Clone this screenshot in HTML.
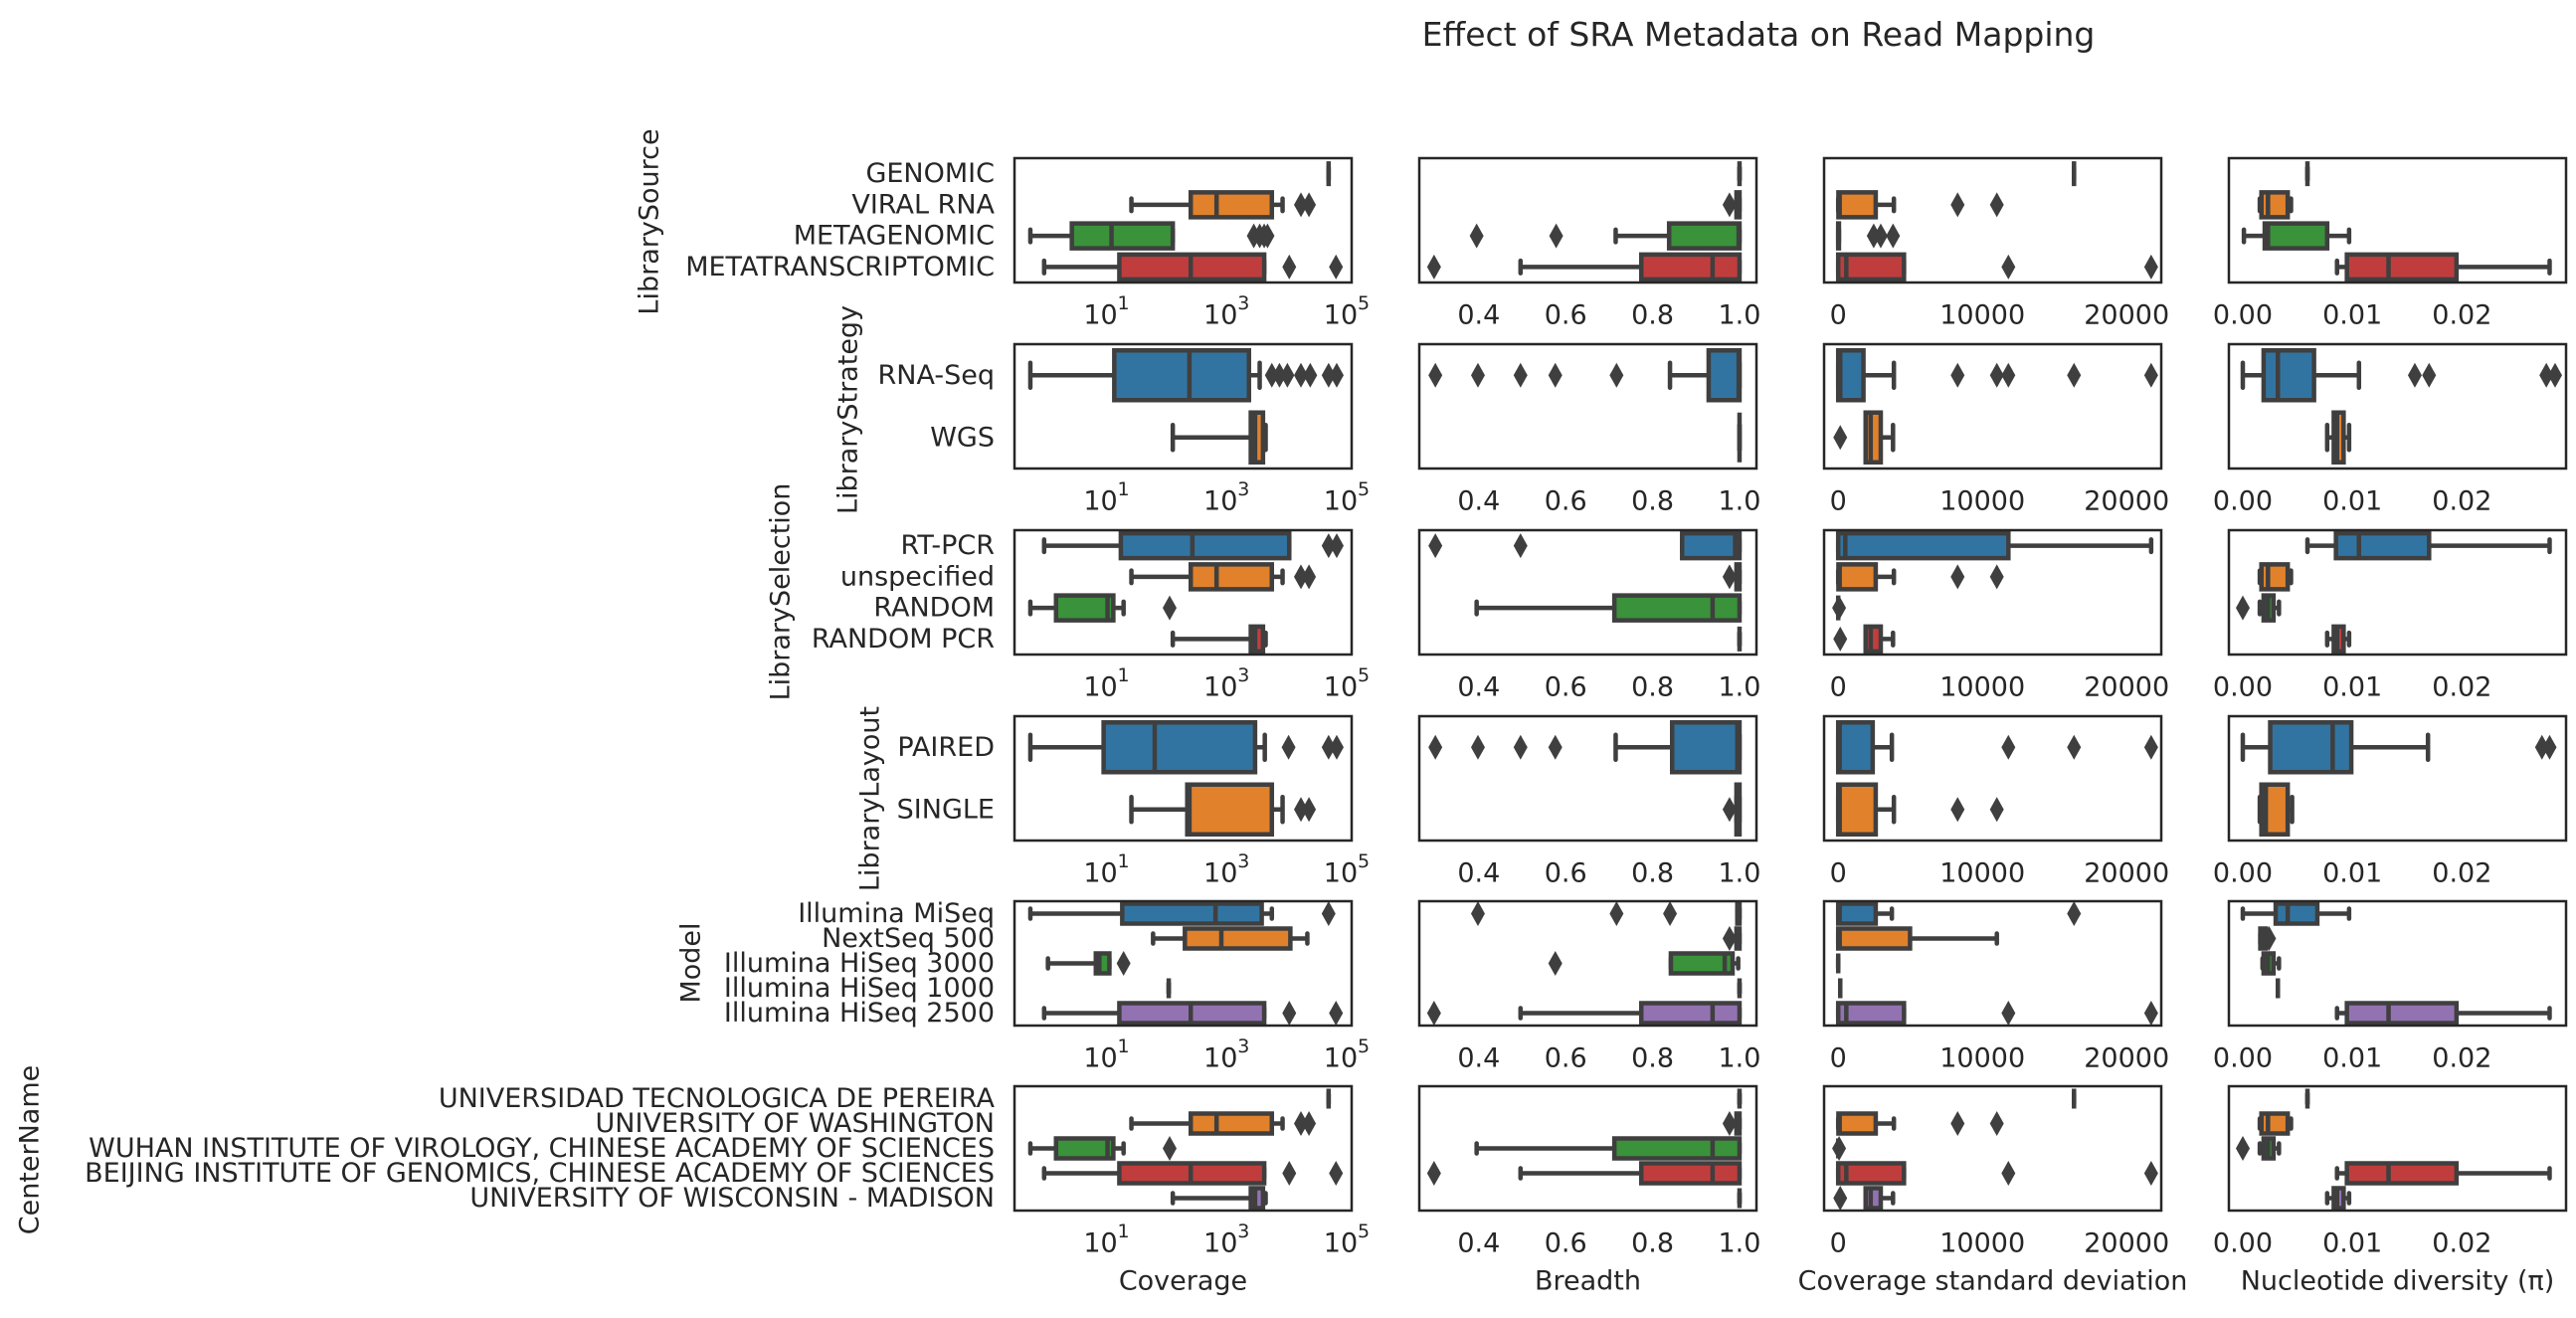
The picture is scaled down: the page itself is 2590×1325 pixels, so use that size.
<!DOCTYPE html>
<html><head><meta charset="utf-8"><style>
html,body{margin:0;padding:0;background:#fff;}
svg{display:block;font-family:"DejaVu Sans","Liberation Sans",sans-serif;}
</style></head><body>
<svg id="chart" width="2590" height="1325" viewBox="0 0 2590 1325">
<text x="1768" y="46" font-size="33" text-anchor="middle" fill="#262626">Effect of SRA Metadata on Read Mapping</text>
</svg>
<script>
// ---- data ----
const metricNames = ["Coverage","Breadth","Coverage standard deviation","Nucleotide diversity (π)"];
const rowNames = ["LibrarySource","LibraryStrategy","LibrarySelection","LibraryLayout","Model","CenterName"];

const sourceCats = ["GENOMIC","VIRAL RNA","METAGENOMIC","METATRANSCRIPTOMIC"];
const sourceCoverage = [[52000,52000,52000,52000,52000],[27,263,708,5900,8900],[0.56,2.75,12.6,132,132],[0.95,17,263,4400,4400]];
const sourceCoverageOut = [[],[18000,24500],[2950,3700,4400,5000],[11500,69000]];
const sourceBreadth = [[1,1,1,1,1],[0.993,0.993,0.998,1,1],[0.715,0.838,0.998,1,1],[0.496,0.774,0.938,1,1]];
const sourceBreadthOut = [[],[0.977],[0.395,0.578],[0.297]];
const sourceStd = [[16350,16350,16350,16350,16350],[0,14,100,2600,3860],[0,0,0,50,50],[0,0,560,4560,4560]];
const sourceStdOut = [[],[8280,11000],[2460,2950,3800],[11800,21700]];
const sourceNuc = [[0.0059,0.0059,0.0059,0.0059,0.0059],[0.00155,0.0017,0.0023,0.0041,0.0044],[0.0001,0.002,0.0023,0.0077,0.0097],[0.0086,0.0095,0.0133,0.0195,0.028]];
const sourceNucOut = [[],[],[],[]];

const strategyCats = ["RNA-Seq","WGS"];
const strategyCoverage = [[0.56,14,250,2450,3700],[132,2630,3100,4200,4650]];
const strategyCoverageOut = [[5900,7900,10700,18000,25700,52000,71000],[]];
const strategyBreadth = [[0.84,0.929,0.998,1,1],[1,1,1,1,1]];
const strategyBreadthOut = [[0.30,0.398,0.496,0.576,0.717],[]];
const strategyStd = [[0,0,140,1750,3860],[1900,1900,2250,2950,3800]];
const strategyStdOut = [[8280,11000,11800,16350,21700],[140]];
const strategyNuc = [[0,0.0019,0.0032,0.0065,0.0106],[0.0077,0.0083,0.0086,0.0092,0.0097]];
const strategyNucOut = [[0.0157,0.017,0.0277,0.0285],[]];

const selectionCats = ["RT-PCR","unspecified","RANDOM","RANDOM PCR"];
const selectionCoverage = [[0.95,18,280,11500,11500],[27,263,708,5900,8900],[0.56,1.5,10.8,13.5,20],[132,2630,3100,4200,4650]];
const selectionCoverageOut = [[52000,71000],[18000,24500],[117],[]];
const selectionBreadth = [[0.868,0.868,0.99,1,1],[0.993,0.993,0.998,1,1],[0.395,0.712,0.938,1,1],[1,1,1,1,1]];
const selectionBreadthOut = [[0.30,0.496],[0.977],[],[]];
const selectionStd = [[0,0,490,11800,21700],[0,14,100,2600,3860],[0,0,0,0,0],[1900,1900,2250,2950,3800]];
const selectionStdOut = [[],[8280,11000],[60],[140]];
const selectionNuc = [[0.0059,0.0085,0.0106,0.017,0.028],[0.00155,0.0017,0.0023,0.0041,0.0044],[0.00155,0.0019,0.0023,0.0028,0.0033],[0.0077,0.0083,0.0086,0.0092,0.0097]];
const selectionNucOut = [[],[],[0],[]];

const layoutCats = ["PAIRED","SINGLE"];
const layoutCoverage = [[0.56,9.3,66,3100,4500],[27,230,250,5900,8900]];
const layoutCoverageOut = [[11200,52000,71000],[18000,24500]];
const layoutBreadth = [[0.715,0.845,0.995,1,1],[0.993,0.993,0.998,1,1]];
const layoutBreadthOut = [[0.30,0.398,0.496,0.576],[0.977]];
const layoutStd = [[0,0,100,2390,3720],[0,0,100,2600,3860]];
const layoutStdOut = [[11800,16350,21700],[8280,11000]];
const layoutNuc = [[0,0.0025,0.0082,0.0099,0.0169],[0.00155,0.0017,0.0021,0.0041,0.0045]];
const layoutNucOut = [[0.0273,0.028],[]];

const modelCats = ["Illumina MiSeq","NextSeq 500","Illumina HiSeq 3000","Illumina HiSeq 1000","Illumina HiSeq 2500"];
const modelCoverage = [[0.56,19,680,4000,5900],[62,210,850,12000,23000],[1.1,6.9,7.9,11.6,11.6],[113,113,113,113,113],[0.95,17,263,4400,4400]];
const modelCoverageOut = [[52000],[],[20],[],[11500,69000]];
const modelBreadth = [[0.995,0.995,0.998,1,1],[0.993,0.993,0.998,1,1],[0.842,0.842,0.966,0.984,0.997],[1,1,1,1,1],[0.496,0.774,0.938,1,1]];
const modelBreadthOut = [[0.398,0.717,0.84],[0.977],[0.576],[],[0.297]];
const modelStd = [[0,0,100,2600,3720],[0,0,100,4980,11000],[0,0,0,0,0],[140,140,140,140,140],[0,0,560,4560,4560]];
const modelStdOut = [[16350],[],[],[],[11800,21700]];
const modelNuc = [[0,0.003,0.0041,0.0068,0.0097],[0.0016,0.0016,0.0018,0.0021,0.0021],[0.0018,0.0019,0.0023,0.0028,0.0033],[0.0032,0.0032,0.0032,0.0032,0.0032],[0.0086,0.0095,0.0133,0.0195,0.028]];
const modelNucOut = [[],[0.0024],[],[],[]];

const centerCats = ["UNIVERSIDAD TECNOLOGICA DE PEREIRA","UNIVERSITY OF WASHINGTON","WUHAN INSTITUTE OF VIROLOGY, CHINESE ACADEMY OF SCIENCES","BEIJING INSTITUTE OF GENOMICS, CHINESE ACADEMY OF SCIENCES","UNIVERSITY OF WISCONSIN - MADISON"];
const centerCoverage = [[52000,52000,52000,52000,52000],[27,263,708,5900,8900],[0.56,1.5,10.8,13.5,20],[0.95,17,263,4400,4400],[132,2630,3100,4200,4650]];
const centerCoverageOut = [[],[18000,24500],[117],[11500,69000],[]];
const centerBreadth = [[1,1,1,1,1],[0.993,0.993,0.998,1,1],[0.395,0.712,0.938,1,1],[0.496,0.774,0.938,1,1],[1,1,1,1,1]];
const centerBreadthOut = [[],[0.977],[],[0.297],[]];
const centerStd = [[16350,16350,16350,16350,16350],[0,14,100,2600,3860],[0,0,0,0,0],[0,0,560,4560,4560],[1900,1900,2250,2950,3800]];
const centerStdOut = [[],[8280,11000],[60],[11800,21700],[140]];
const centerNuc = [[0.0059,0.0059,0.0059,0.0059,0.0059],[0.00155,0.0017,0.0023,0.0041,0.0044],[0.00155,0.0019,0.0023,0.0028,0.0033],[0.0086,0.0095,0.0133,0.0195,0.028],[0.0077,0.0083,0.0086,0.0092,0.0097]];
const centerNucOut = [[],[],[0],[],[]];

const coverageTicks = [1,3,5];
const breadthTicks = ["0.4","0.6","0.8","1.0"];
const stdTicks = ["0","10000","20000"];
const nucTicks = ["0.00","0.01","0.02"];

// ---- layout ----
const NS = "http://www.w3.org/2000/svg";
const svg = document.getElementById("chart");
const palette = ["#3274a1","#e1812c","#3a923a","#c03d3e","#9372b2"];
const LINE = "#3f3f3f";
const FS = 27;
const rowTops = [159,346,533,720,906,1092];
const rowH = 125;
const colLefts = [1020,1427,1834,2241];
const colW = 339;
const rowLabelX = [654,854,786,876,696,31];
const rowLabelY = [223,412,595,803,968,1156];

const domains = [[-0.516,5.1],[0.263,1.039],[-980,22400],[-0.00127,0.0295]];
function xScale(col, v){
  const d = domains[col];
  let t = col===0 ? Math.log10(Math.max(v,1e-6)) : v;
  return colLefts[col] + (t-d[0])/(d[1]-d[0])*colW;
}

function mk(tag, attrs, parent){
  const e = document.createElementNS(NS, tag);
  for (const k in attrs) e.setAttribute(k, attrs[k]);
  (parent||svg).appendChild(e);
  return e;
}

const rows = [
  [sourceCats,[sourceCoverage,sourceBreadth,sourceStd,sourceNuc],[sourceCoverageOut,sourceBreadthOut,sourceStdOut,sourceNucOut]],
  [strategyCats,[strategyCoverage,strategyBreadth,strategyStd,strategyNuc],[strategyCoverageOut,strategyBreadthOut,strategyStdOut,strategyNucOut]],
  [selectionCats,[selectionCoverage,selectionBreadth,selectionStd,selectionNuc],[selectionCoverageOut,selectionBreadthOut,selectionStdOut,selectionNucOut]],
  [layoutCats,[layoutCoverage,layoutBreadth,layoutStd,layoutNuc],[layoutCoverageOut,layoutBreadthOut,layoutStdOut,layoutNucOut]],
  [modelCats,[modelCoverage,modelBreadth,modelStd,modelNuc],[modelCoverageOut,modelBreadthOut,modelStdOut,modelNucOut]],
  [centerCats,[centerCoverage,centerBreadth,centerStd,centerNuc],[centerCoverageOut,centerBreadthOut,centerStdOut,centerNucOut]]
];

rows.forEach((row, r) => {
  const cats = row[0];
  const top = rowTops[r];
  const band = rowH / cats.length;
  const rl = mk("text",{x:rowLabelX[r], y:rowLabelY[r], "font-size":FS, fill:"#262626", "text-anchor":"middle", "dominant-baseline":"middle", transform:`rotate(-90 ${rowLabelX[r]} ${rowLabelY[r]})`});
  
  
  rl.textContent = rowNames[r];
  cats.forEach((c, i) => {
    const t = mk("text",{x:1000, y: top + band*(i+0.5), "font-size":FS, fill:"#262626", "text-anchor":"end", "dominant-baseline":"central"});
    
    
    t.textContent = c;
  });
  for (let col=0; col<4; col++){
    const g = mk("g",{});
    
    
    const stats = row[1][col], outs = row[2][col];
    cats.forEach((c, i) => {
      const cy = top + band*(i+0.5);
      const bh = band*0.8;
      const s = stats[i].map(v => xScale(col, v));
      const color = palette[i];
      const bg = mk("g",{}, g);
      
      
      mk("line",{x1:s[0],x2:s[1],y1:cy,y2:cy,stroke:LINE,"stroke-width":4.5}, bg);
      mk("line",{x1:s[3],x2:s[4],y1:cy,y2:cy,stroke:LINE,"stroke-width":4.5}, bg);
      mk("line",{x1:s[0],x2:s[0],y1:cy-bh/4,y2:cy+bh/4,stroke:LINE,"stroke-width":4.5,"stroke-linecap":"round"}, bg);
      mk("line",{x1:s[4],x2:s[4],y1:cy-bh/4,y2:cy+bh/4,stroke:LINE,"stroke-width":4.5,"stroke-linecap":"round"}, bg);
      mk("rect",{x:s[1],y:cy-bh/2,width:Math.max(0,s[3]-s[1]),height:bh,fill:color,stroke:LINE,"stroke-width":4.5}, bg);
      mk("line",{x1:s[2],x2:s[2],y1:cy-bh/2,y2:cy+bh/2,stroke:LINE,"stroke-width":4.5}, bg);
      outs[i].forEach(v => {
        const x = xScale(col, v);
        const d = mk("path",{d:`M${x},${cy-12.5} L${x+7},${cy} L${x},${cy+12.5} L${x-7},${cy} Z`, fill:LINE}, bg);
        
        
      });
    });
    const fr = mk("rect",{x:colLefts[col],y:top,width:colW,height:rowH,fill:"none",stroke:"#262626","stroke-width":2.5}, g);
    
    
    const ty = top + rowH + 33;
    if (col===0){
      coverageTicks.forEach(e => {
        const x = xScale(0, Math.pow(10,e));
        const t = mk("text",{x:x-5,y:ty,"font-size":FS,fill:"#262626","text-anchor":"middle","dominant-baseline":"central"}, g);
        
        
        t.textContent = "10";
        const sp = mk("text",{x:x+12,y:ty-12,"font-size":19,fill:"#262626","text-anchor":"start","dominant-baseline":"central"}, g);
        
        
        sp.textContent = String(e);
      });
    } else {
      const ticks = col===1 ? breadthTicks : col===2 ? stdTicks : nucTicks;
      ticks.forEach(tk => {
        const x = xScale(col, parseFloat(tk));
        const t = mk("text",{x:x,y:ty,"font-size":FS,fill:"#262626","text-anchor":"middle","dominant-baseline":"central"}, g);
        
        
        t.textContent = tk;
      });
    }
    if (r===5){
      const xl = mk("text",{x:colLefts[col]+colW/2,y:1288,"font-size":FS,fill:"#262626","text-anchor":"middle","dominant-baseline":"central"}, g);
      
      
      xl.textContent = metricNames[col];
    }
  }
});
</script>
</body></html>
